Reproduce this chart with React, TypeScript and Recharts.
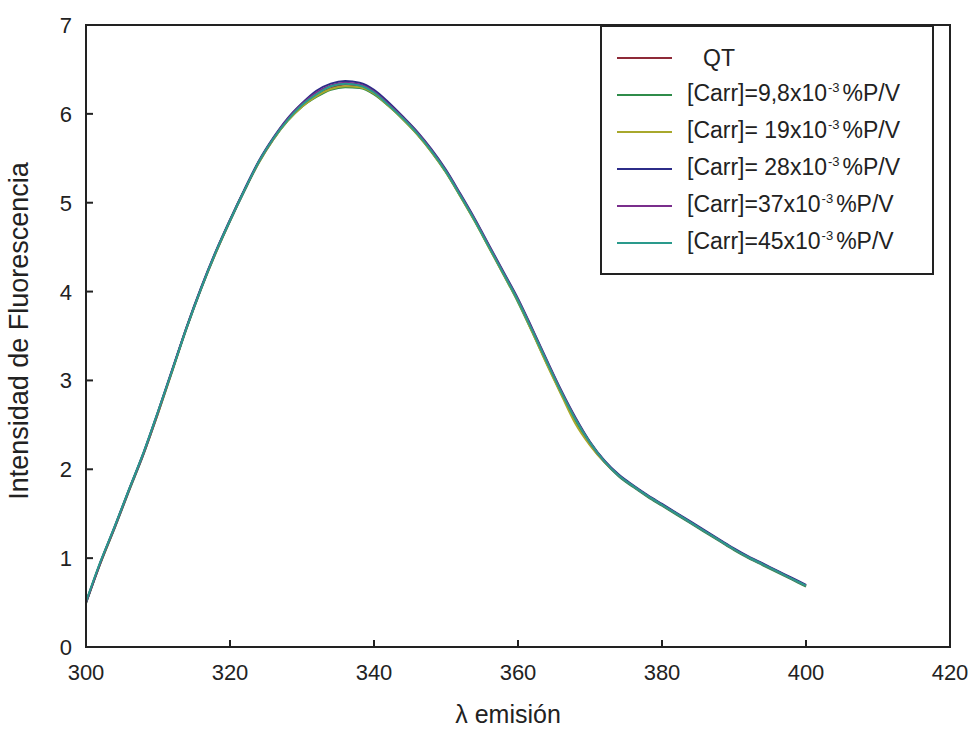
import { LineChart, Line, XAxis, YAxis, Legend, ReferenceArea } from 'recharts'

// emission wavelength (nm), 2 nm steps
const wavelengths = [
  300, 302, 304, 306, 308, 310, 312, 314, 316, 318, 320, 322, 324, 326, 328, 330, 332, 334, 336, 338,
  340, 342, 344, 346, 348, 350, 352, 354, 356, 358, 360, 362, 364, 366, 368, 370, 372, 374, 376, 378,
  380, 382, 384, 386, 388, 390, 392, 394, 396, 398, 400
]

const qt = [
  0.5, 0.95, 1.35, 1.77, 2.18, 2.64, 3.12, 3.6, 4.04, 4.44, 4.8, 5.14, 5.46, 5.72, 5.93, 6.09, 6.21, 6.29, 6.33, 6.31,
  6.23, 6.1, 5.95, 5.78, 5.58, 5.35, 5.08, 4.8, 4.5, 4.2, 3.9, 3.56, 3.21, 2.87, 2.56, 2.3, 2.09, 1.93, 1.81, 1.7,
  1.6, 1.5, 1.4, 1.3, 1.2, 1.1, 1.01, 0.93, 0.85, 0.77, 0.69
]
const carr98 = [
  0.49, 0.94, 1.34, 1.76, 2.17, 2.63, 3.11, 3.59, 4.03, 4.43, 4.79, 5.13, 5.45, 5.71, 5.92, 6.08, 6.19, 6.27, 6.3, 6.29,
  6.22, 6.09, 5.94, 5.77, 5.57, 5.34, 5.07, 4.79, 4.49, 4.19, 3.88, 3.54, 3.19, 2.85, 2.54, 2.28, 2.08, 1.92, 1.8, 1.69,
  1.59, 1.49, 1.39, 1.29, 1.19, 1.09, 1.0, 0.92, 0.84, 0.76, 0.68
]
const carr19 = [
  0.5, 0.94, 1.35, 1.77, 2.18, 2.63, 3.11, 3.6, 4.04, 4.43, 4.8, 5.14, 5.45, 5.71, 5.92, 6.08, 6.2, 6.28, 6.31, 6.3,
  6.23, 6.09, 5.94, 5.77, 5.57, 5.34, 5.07, 4.79, 4.49, 4.19, 3.89, 3.54, 3.18, 2.84, 2.51, 2.27, 2.08, 1.93, 1.81, 1.7,
  1.6, 1.5, 1.4, 1.3, 1.2, 1.1, 1.01, 0.93, 0.85, 0.77, 0.69
]
const carr28 = [
  0.5, 0.95, 1.36, 1.78, 2.19, 2.65, 3.13, 3.61, 4.05, 4.45, 4.81, 5.15, 5.47, 5.73, 5.95, 6.12, 6.26, 6.34, 6.37, 6.35,
  6.27, 6.13, 5.97, 5.8, 5.6, 5.37, 5.1, 4.82, 4.52, 4.22, 3.92, 3.58, 3.23, 2.89, 2.58, 2.31, 2.1, 1.94, 1.82, 1.71,
  1.61, 1.51, 1.41, 1.31, 1.21, 1.11, 1.02, 0.94, 0.86, 0.78, 0.7
]
const carr37 = [
  0.5, 0.95, 1.35, 1.77, 2.18, 2.64, 3.12, 3.6, 4.04, 4.44, 4.8, 5.14, 5.46, 5.72, 5.94, 6.11, 6.24, 6.32, 6.35, 6.33,
  6.25, 6.11, 5.96, 5.79, 5.59, 5.36, 5.09, 4.81, 4.51, 4.21, 3.91, 3.57, 3.22, 2.88, 2.57, 2.3, 2.09, 1.93, 1.81, 1.7,
  1.6, 1.5, 1.4, 1.3, 1.2, 1.1, 1.01, 0.93, 0.85, 0.77, 0.69
]
const carr45 = [
  0.51, 0.96, 1.36, 1.78, 2.19, 2.65, 3.12, 3.6, 4.04, 4.44, 4.8, 5.14, 5.46, 5.72, 5.93, 6.1, 6.22, 6.31, 6.34, 6.32,
  6.24, 6.1, 5.95, 5.78, 5.58, 5.35, 5.08, 4.8, 4.5, 4.2, 3.9, 3.56, 3.21, 2.87, 2.56, 2.3, 2.09, 1.93, 1.81, 1.7,
  1.6, 1.5, 1.4, 1.3, 1.2, 1.1, 1.01, 0.93, 0.85, 0.77, 0.69
]

const xTicks = [300, 320, 340, 360, 380, 400, 420]
const yTicks = [0, 1, 2, 3, 4, 5, 6, 7]

const seriesKeys = ['qt', 'carr98', 'carr19', 'carr28', 'carr37', 'carr45']
const seriesValues = [qt, carr98, carr19, carr28, carr37, carr45]
const seriesColors = ['#8e2a38', '#2f8c4a', '#a8a82c', '#2c2c88', '#7a2e8c', '#2a9a8c']
const legendMain = ['QT', '[Carr]=9,8x10', '[Carr]= 19x10', '[Carr]= 28x10', '[Carr]=37x10', '[Carr]=45x10']
const legendSup = ['', '-3', '-3', '-3', '-3', '-3']
const legendUnit = ['', '%P/V', '%P/V', '%P/V', '%P/V', '%P/V']

const data = wavelengths.map((wl, i) => {
  const row: Record<string, number> = { wl }
  seriesKeys.forEach((k, s) => { row[k] = seriesValues[s][i] })
  return row
})

const FONT = '"Liberation Sans", Arial, sans-serif'
const INK = '#222'

function XTick({ x, y, payload }: any) {
  return (
    <text x={x} y={y} dy={8} textAnchor="middle" fontSize={22} fontFamily={FONT} fill={INK}>
      {payload.value}
    </text>
  )
}

function YTick({ x, y, payload }: any) {
  return (
    <text x={x} y={y} dy={8} textAnchor="end" fontSize={22} fontFamily={FONT} fill={INK}>
      {payload.value}
    </text>
  )
}

function renderYLabel(props: any) {
  const vb = props.viewBox
  const cx = vb.x - 7
  const cy = vb.y + vb.height / 2 - 5
  return (
    <text x={cx} y={cy} transform={`rotate(-90 ${cx} ${cy})`} textAnchor="middle" dominantBaseline="central"
      fontSize={27} fontFamily={FONT} fill={INK}>
      Intensidad de Fluorescencia
    </text>
  )
}

function renderXLabel(props: any) {
  const vb = props.viewBox
  return (
    <text x={vb.x + vb.width / 2 - 10} y={vb.y + 76} textAnchor="middle" fontSize={25} fontFamily={FONT} fill={INK}>
      λ emisión
    </text>
  )
}

function LegendBox() {
  return (
    <div style={{
      width: 334, height: 250, border: `2px solid ${INK}`, boxSizing: 'border-box', background: '#fff',
      paddingTop: 12, fontFamily: FONT, color: INK
    }}>
      {seriesKeys.map((k, idx) => (
        <div key={k} style={{ height: 37, display: 'flex', alignItems: 'center' }}>
          <div style={{ marginLeft: 15, width: 55, height: 2, background: seriesColors[idx], flexShrink: 0 }} />
          <span style={{ marginLeft: idx === 0 ? 31 : 15, fontSize: 23, whiteSpace: 'nowrap', lineHeight: '24px' }}>
            {legendMain[idx]}
            {legendSup[idx] && (
              <span style={{ fontSize: 13, position: 'relative', top: -9, marginLeft: 1, marginRight: 3 }}>{legendSup[idx]}</span>
            )}
            {legendUnit[idx]}
          </span>
        </div>
      ))}
    </div>
  )
}

export default function App() {
  return (
    <div style={{ position: 'absolute', left: 0, top: 0, width: 973, height: 740, background: '#fff' }}>
      <LineChart width={973} height={740} data={data} margin={{ top: 25, right: 23, bottom: 53, left: 26 }}>
        <XAxis
          type="number"
          dataKey="wl"
          domain={[300, 420]}
          ticks={xTicks}
          interval={0}
          height={40}
          tickSize={-7}
          tickMargin={32}
          tick={<XTick />}
          axisLine={{ stroke: INK, strokeWidth: 2 }}
          tickLine={{ stroke: INK, strokeWidth: 2 }}
          label={{ value: 'λ emisión', content: renderXLabel }}
        />
        <YAxis
          type="number"
          domain={[0, 7]}
          ticks={yTicks}
          interval={0}
          width={60}
          tickSize={-7}
          tickMargin={21}
          tick={<YTick />}
          axisLine={{ stroke: INK, strokeWidth: 2 }}
          tickLine={{ stroke: INK, strokeWidth: 2 }}
          label={{ value: 'Intensidad de Fluorescencia', content: renderYLabel }}
        />
        <ReferenceArea x1={300} x2={420} y1={0} y2={7} fill="none" stroke={INK} strokeWidth={2} ifOverflow="visible" />
        {seriesKeys.map((k, s) => (
          <Line
            key={k}
            type="monotone"
            dataKey={k}
            stroke={seriesColors[s]}
            strokeWidth={2}
            dot={false}
            isAnimationActive={false}
          />
        ))}
        <Legend
          layout="vertical"
          align="center"
          verticalAlign="middle"
          content={<LegendBox />}
          wrapperStyle={{ left: 600, top: 25, width: 334, height: 250 }}
        />
      </LineChart>
    </div>
  )
}
